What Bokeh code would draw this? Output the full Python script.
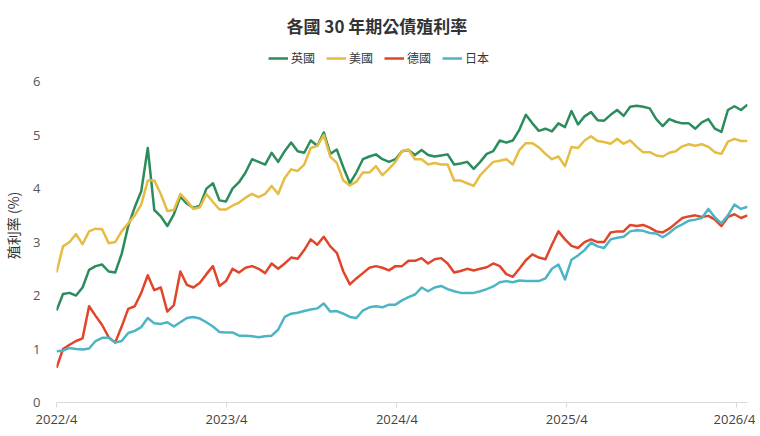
import pandas as pd
from bokeh.plotting import figure
from bokeh.models import (Range1d, FixedTicker, Legend, LegendItem,
                          ColumnDataSource, CustomJSTickFormatter)
from bokeh.embed import file_html
from bokeh.resources import INLINE

title_text = "各國 30 年期公債殖利率"
y_label = "殖利率 (%)"
series_names = ["英國", "美國", "德國", "日本"]
series_colors = ["#2B8C5C", "#E5BD42", "#E1452A", "#4CB5C5"]

start_date = "2022-04-01"
n_points = 107
dates = pd.date_range(start_date, periods=n_points, freq="14D")
tick_dates = ["2022-04-01", "2023-04-01", "2024-04-01", "2025-04-01", "2026-04-01"]
y_ticks = [0, 1, 2, 3, 4, 5, 6]

uk = [1.72, 2.03, 2.05, 2.00, 2.15, 2.48, 2.55, 2.58, 2.45, 2.43,
      2.78, 3.30, 3.65, 3.95, 4.76, 3.60, 3.48, 3.30, 3.52, 3.85,
      3.72, 3.64, 3.68, 4.00, 4.10, 3.78, 3.76, 4.00, 4.12, 4.30,
      4.55, 4.50, 4.45, 4.67, 4.50, 4.70, 4.86, 4.70, 4.67, 4.90,
      4.80, 5.05, 4.65, 4.73, 4.40, 4.10, 4.30, 4.55, 4.60, 4.64,
      4.55, 4.50, 4.55, 4.70, 4.72, 4.63, 4.72, 4.63, 4.60, 4.62,
      4.64, 4.45, 4.47, 4.50, 4.37, 4.50, 4.65, 4.70, 4.90, 4.86,
      4.90, 5.10, 5.38, 5.22, 5.08, 5.12, 5.07, 5.22, 5.15, 5.45,
      5.20, 5.35, 5.43, 5.28, 5.27, 5.38, 5.47, 5.36, 5.53, 5.55,
      5.53, 5.50, 5.30, 5.17, 5.30, 5.25, 5.22, 5.22, 5.12, 5.24,
      5.30, 5.12, 5.06, 5.47, 5.54, 5.47, 5.57]

us = [2.43, 2.92, 3.00, 3.15, 2.96, 3.20, 3.25, 3.24, 2.98, 3.00,
      3.20, 3.35, 3.50, 3.70, 4.15, 4.15, 3.90, 3.58, 3.60, 3.90,
      3.77, 3.62, 3.65, 3.90, 3.75, 3.61, 3.61, 3.68, 3.74, 3.83,
      3.90, 3.84, 3.90, 4.05, 3.90, 4.20, 4.36, 4.33, 4.45, 4.76,
      4.80, 5.00, 4.60, 4.48, 4.15, 4.06, 4.13, 4.30, 4.30, 4.42,
      4.25, 4.37, 4.50, 4.70, 4.73, 4.55, 4.55, 4.45, 4.48, 4.45,
      4.45, 4.15, 4.15, 4.10, 4.05, 4.25, 4.38, 4.50, 4.52, 4.55,
      4.45, 4.72, 4.85, 4.85, 4.77, 4.65, 4.55, 4.60, 4.42, 4.78,
      4.76, 4.90, 4.98, 4.89, 4.87, 4.84, 4.93, 4.84, 4.90, 4.78,
      4.68, 4.68, 4.62, 4.60, 4.67, 4.70, 4.79, 4.83, 4.80, 4.83,
      4.78, 4.68, 4.65, 4.88, 4.93, 4.89, 4.89]

de = [0.65, 1.00, 1.08, 1.15, 1.20, 1.80, 1.62, 1.45, 1.22, 1.12,
      1.42, 1.75, 1.80, 2.05, 2.38, 2.10, 2.15, 1.70, 1.82, 2.45,
      2.20, 2.15, 2.24, 2.40, 2.55, 2.18, 2.27, 2.50, 2.43, 2.52,
      2.55, 2.50, 2.42, 2.60, 2.50, 2.60, 2.71, 2.69, 2.85, 3.05,
      2.95, 3.10, 2.92, 2.80, 2.45, 2.21, 2.32, 2.42, 2.52, 2.55,
      2.52, 2.47, 2.55, 2.55, 2.65, 2.65, 2.70, 2.60, 2.68, 2.70,
      2.60, 2.43, 2.46, 2.50, 2.47, 2.50, 2.53, 2.60, 2.55, 2.40,
      2.35, 2.50, 2.66, 2.77, 2.71, 2.68, 2.95, 3.20, 3.05, 2.93,
      2.89, 3.00, 3.05, 3.00, 3.00, 3.18, 3.20, 3.20, 3.32, 3.30,
      3.32, 3.27, 3.20, 3.18, 3.25, 3.35, 3.45, 3.48, 3.50, 3.47,
      3.49, 3.42, 3.30, 3.47, 3.52, 3.45, 3.50]

jp = [0.96, 0.97, 1.02, 1.00, 0.99, 1.01, 1.15, 1.21, 1.21, 1.12,
      1.15, 1.30, 1.34, 1.41, 1.58, 1.48, 1.47, 1.50, 1.42, 1.50,
      1.58, 1.60, 1.57, 1.50, 1.42, 1.32, 1.31, 1.31, 1.25, 1.25,
      1.24, 1.22, 1.24, 1.25, 1.36, 1.60, 1.66, 1.68, 1.71, 1.74,
      1.76, 1.85, 1.70, 1.71, 1.66, 1.60, 1.58, 1.72, 1.78, 1.80,
      1.78, 1.83, 1.83, 1.91, 1.97, 2.02, 2.15, 2.08, 2.15, 2.18,
      2.12, 2.08, 2.05, 2.05, 2.05, 2.08, 2.12, 2.17, 2.25, 2.27,
      2.25, 2.28, 2.27, 2.27, 2.27, 2.32, 2.50, 2.58, 2.30, 2.67,
      2.75, 2.85, 2.99, 2.92, 2.89, 3.05, 3.08, 3.10, 3.20, 3.22,
      3.21, 3.17, 3.16, 3.09, 3.17, 3.27, 3.33, 3.40, 3.42, 3.45,
      3.62, 3.46, 3.35, 3.50, 3.70, 3.62, 3.66]

source = ColumnDataSource(dict(date=dates, uk=uk, us=us, de=de, jp=jp))

CJK = "Noto Sans CJK TC"
NUM = "Open Sans"

p = figure(frame_width=691, frame_height=354, output_backend="svg", toolbar_location=None,
           x_axis_type="datetime",
           x_range=Range1d(dates[0], dates[-1]), y_range=Range1d(0, 6.62),
           min_border_left=0, min_border_right=8, min_border_bottom=0,
           min_border_top=0)
p.outline_line_color = None
p.xgrid.grid_line_color = None
p.ygrid.grid_line_color = None

p.title.text = title_text
p.title.align = "left"
p.title.offset = 230
p.title.standoff = 21
p.title.text_font = CJK
p.title.text_font_size = "17px"
p.title.text_font_style = "bold"
p.title.text_color = "#333333"

renderers = []
for key, color in zip(["uk", "us", "de", "jp"], series_colors):
    r = p.line("date", key, source=source, line_color=color, line_width=2.5,
               line_join="round")
    renderers.append(r)

legend = Legend(items=[LegendItem(label=n, renderers=[r]) for n, r in zip(series_names, renderers)],
                orientation="horizontal", location=(212, 336))
legend.label_text_font = CJK
legend.label_text_font_size = "12px"
legend.label_text_color = "#333333"
legend.glyph_width = 20
legend.glyph_height = 12
legend.label_height = 16
legend.label_standoff = 3
legend.spacing = 11
legend.padding = 0
legend.margin = 0
legend.border_line_color = None
legend.background_fill_alpha = 0
p.add_layout(legend)

xa = p.xaxis[0]
xa.axis_label = None
xa.ticker = FixedTicker(ticks=[pd.Timestamp(d).value // 10**6 for d in tick_dates])
xa.formatter = CustomJSTickFormatter(code="""
const d = new Date(tick);
return d.getUTCFullYear() + "/" + (d.getUTCMonth() + 1);
""")
xa.axis_line_color = "#d9d9d9"
xa.major_tick_line_color = "#d9d9d9"
xa.major_tick_out = 5
xa.major_tick_in = 0
xa.minor_tick_line_color = None
xa.major_label_text_font = NUM
xa.major_label_text_font_size = "13px"
xa.major_label_text_color = "#444444"
xa.major_label_standoff = 2

ya = p.yaxis[0]
ya.ticker = FixedTicker(ticks=y_ticks)
ya.axis_line_color = None
ya.major_tick_line_color = None
ya.minor_tick_line_color = None
ya.major_label_text_font = NUM
ya.major_label_text_font_size = "13px"
ya.major_label_text_color = "#555555"
ya.major_label_standoff = 10
ya.axis_label = y_label
ya.axis_label_text_font = CJK
ya.axis_label_text_font_size = "14px"
ya.axis_label_text_font_style = "normal"
ya.axis_label_text_color = "#333333"
ya.axis_label_standoff = 7

open("out.html", "w").write(file_html(p, INLINE))
